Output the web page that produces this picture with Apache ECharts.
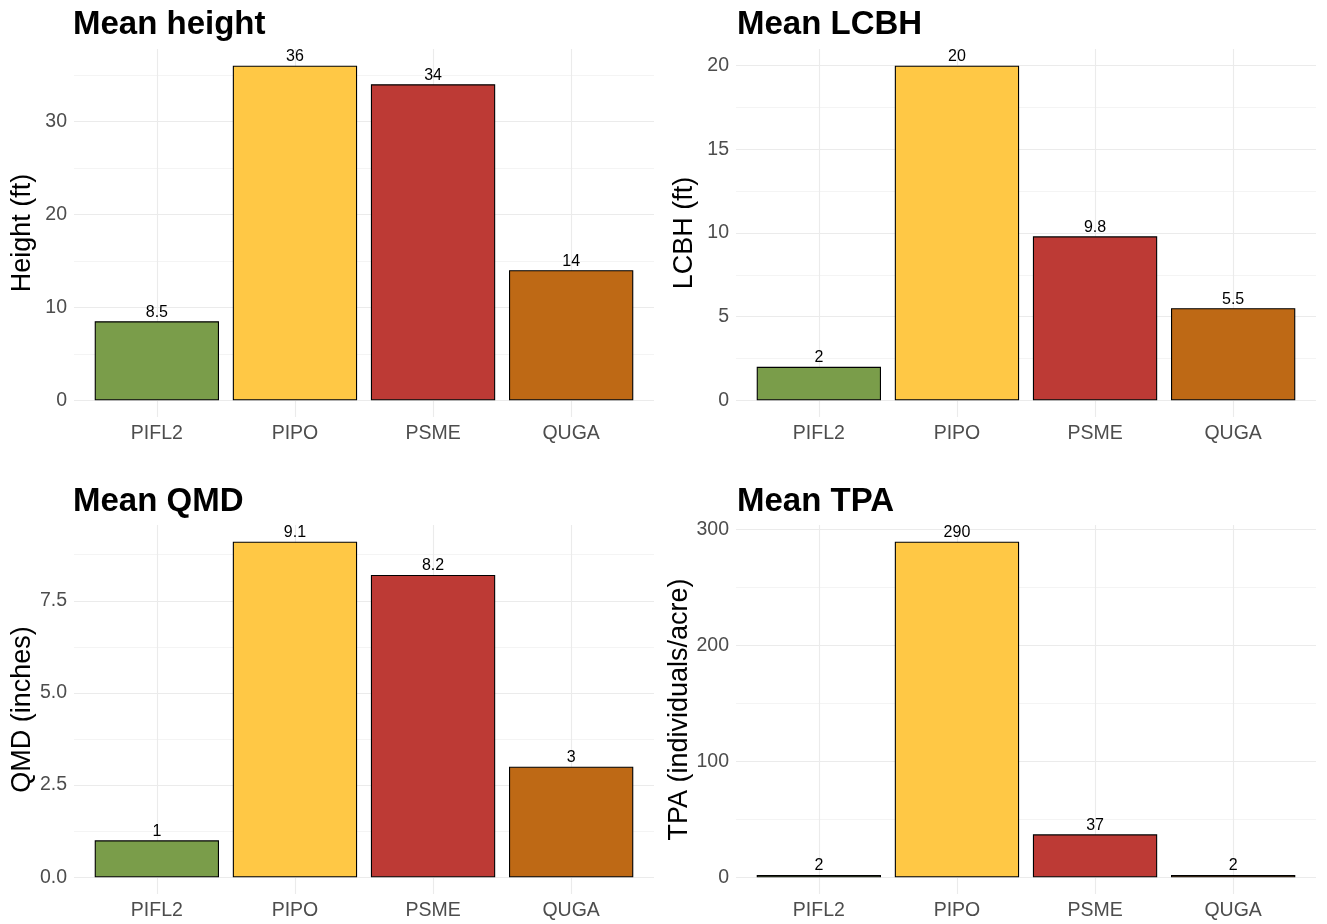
<!DOCTYPE html>
<html>
<head>
<meta charset="utf-8">
<script src="https://cdn.jsdelivr.net/npm/echarts@6/dist/echarts.min.js"></script>
<style>
  html, body { margin: 0; padding: 0; background: #fff; }
  #chart { width: 1327px; height: 924px; }
</style>
</head>
<body>
<div id="chart"></div>
<script>
const categories = ['PIFL2', 'PIPO', 'PSME', 'QUGA'];
const speciesColors = ['#7A9D4A', '#FFC845', '#BD3A35', '#BE6915'];

const heightValues = [8.5, 36, 34, 14];
const lcbhValues = [2, 20, 9.8, 5.5];
const qmdValues = [1, 9.1, 8.2, 3];
const tpaValues = [2, 289.6, 37, 2];

const heightTicks = [0, 10, 20, 30];
const heightMinor = [5, 15, 25, 35];
const lcbhTicks = [0, 5, 10, 15, 20];
const lcbhMinor = [2.5, 7.5, 12.5, 17.5];
const qmdTicks = [0, 2.5, 5, 7.5];
const qmdMinor = [1.25, 3.75, 6.25, 8.75];
const tpaTicks = [0, 100, 200, 300];
const tpaMinor = [50, 150, 250];

const panelTitles = ['Mean height', 'Mean LCBH', 'Mean QMD', 'Mean TPA'];
const axisTitles = ['Height (ft)', 'LCBH (ft)', 'QMD (inches)', 'TPA (individuals/acre)'];

const panels = [
  { values: heightValues, ticks: heightTicks, minor: heightMinor, decimals: 0 },
  { values: lcbhValues, ticks: lcbhTicks, minor: lcbhMinor, decimals: 0 },
  { values: qmdValues, ticks: qmdTicks, minor: qmdMinor, decimals: 1 },
  { values: tpaValues, ticks: tpaTicks, minor: tpaMinor, decimals: 0 }
];

const layout = [
  { left: 74, top: 49, width: 580, height: 368 },
  { left: 736, top: 49, width: 580, height: 368 },
  { left: 74, top: 525, width: 580, height: 369 },
  { left: 736, top: 525, width: 580, height: 369 }
];
const titlePos = [
  { left: 73, top: 8 },
  { left: 737, top: 8 },
  { left: 73, top: 485 },
  { left: 737, top: 485 }
];

const FONT = 'Liberation Sans, Arial, sans-serif';
const GRID_COLOR = '#ebebeb';

const option = {
  animation: false,
  backgroundColor: '#ffffff',
  title: [],
  grid: [],
  xAxis: [],
  yAxis: [],
  series: []
};

panels.forEach((p, i) => {
  const n = categories.length;
  const maxV = Math.max(...p.values);
  const yMin = -0.05 * maxV;
  const yMax = 1.05 * maxV;
  const idx = categories.map((c, j) => j);

  option.title.push({
    text: panelTitles[i],
    left: titlePos[i].left,
    top: titlePos[i].top,
    padding: 0,
    textStyle: { fontFamily: FONT, fontSize: 33, fontWeight: 'bold', color: '#000' }
  });

  option.grid.push(Object.assign({ containLabel: false }, layout[i]));

  option.xAxis.push({
    type: 'value',
    gridIndex: i,
    min: -0.6,
    max: n - 1 + 0.6,
    axisLine: { show: false, onZero: false },
    axisTick: { show: false, customValues: idx },
    axisLabel: {
      customValues: idx,
      formatter: v => categories[Math.round(v)],
      fontFamily: FONT, fontSize: 19.5, color: '#4d4d4d', margin: 7
    },
    splitLine: { show: true, lineStyle: { color: GRID_COLOR, width: 1.1 } }
  });

  // major y axis
  option.yAxis.push({
    type: 'value',
    gridIndex: i,
    min: yMin,
    max: yMax,
    position: 'left',
    axisLine: { show: false },
    axisTick: { show: false, customValues: p.ticks },
    axisLabel: {
      customValues: p.ticks,
      formatter: v => v.toFixed(p.decimals),
      fontFamily: FONT, fontSize: 19.5, color: '#4d4d4d', margin: 7
    },
    splitLine: { show: true, lineStyle: { color: GRID_COLOR, width: 1.1 } },
    name: axisTitles[i],
    nameLocation: 'middle',
    nameGap: 38,
    nameTextStyle: { fontFamily: FONT, fontSize: 27, color: '#000' }
  });
  const majorIndex = option.yAxis.length - 1;

  // minor grid y axis
  option.yAxis.push({
    type: 'value',
    gridIndex: i,
    min: yMin,
    max: yMax,
    position: 'right',
    axisLine: { show: false },
    axisTick: { show: false, customValues: p.minor },
    axisLabel: { show: false },
    splitLine: { show: true, lineStyle: { color: GRID_COLOR, width: 0.55 } }
  });

  option.series.push({
    type: 'bar',
    xAxisIndex: i,
    yAxisIndex: majorIndex,
    barWidth: '90%',
    data: categories.map((c, j) => ({
      value: [j, p.values[j]],
      itemStyle: { color: speciesColors[j] }
    })),
    itemStyle: { borderColor: '#000', borderWidth: 1.1 },
    label: {
      show: true,
      position: 'top',
      distance: 1,
      formatter: prm => String(Number(prm.value[1].toPrecision(2))),
      fontFamily: FONT, fontSize: 16, color: '#000'
    }
  });
});

const chart = echarts.init(document.getElementById('chart'), null, { renderer: 'canvas' });
chart.setOption(option);
</script>
</body>
</html>
